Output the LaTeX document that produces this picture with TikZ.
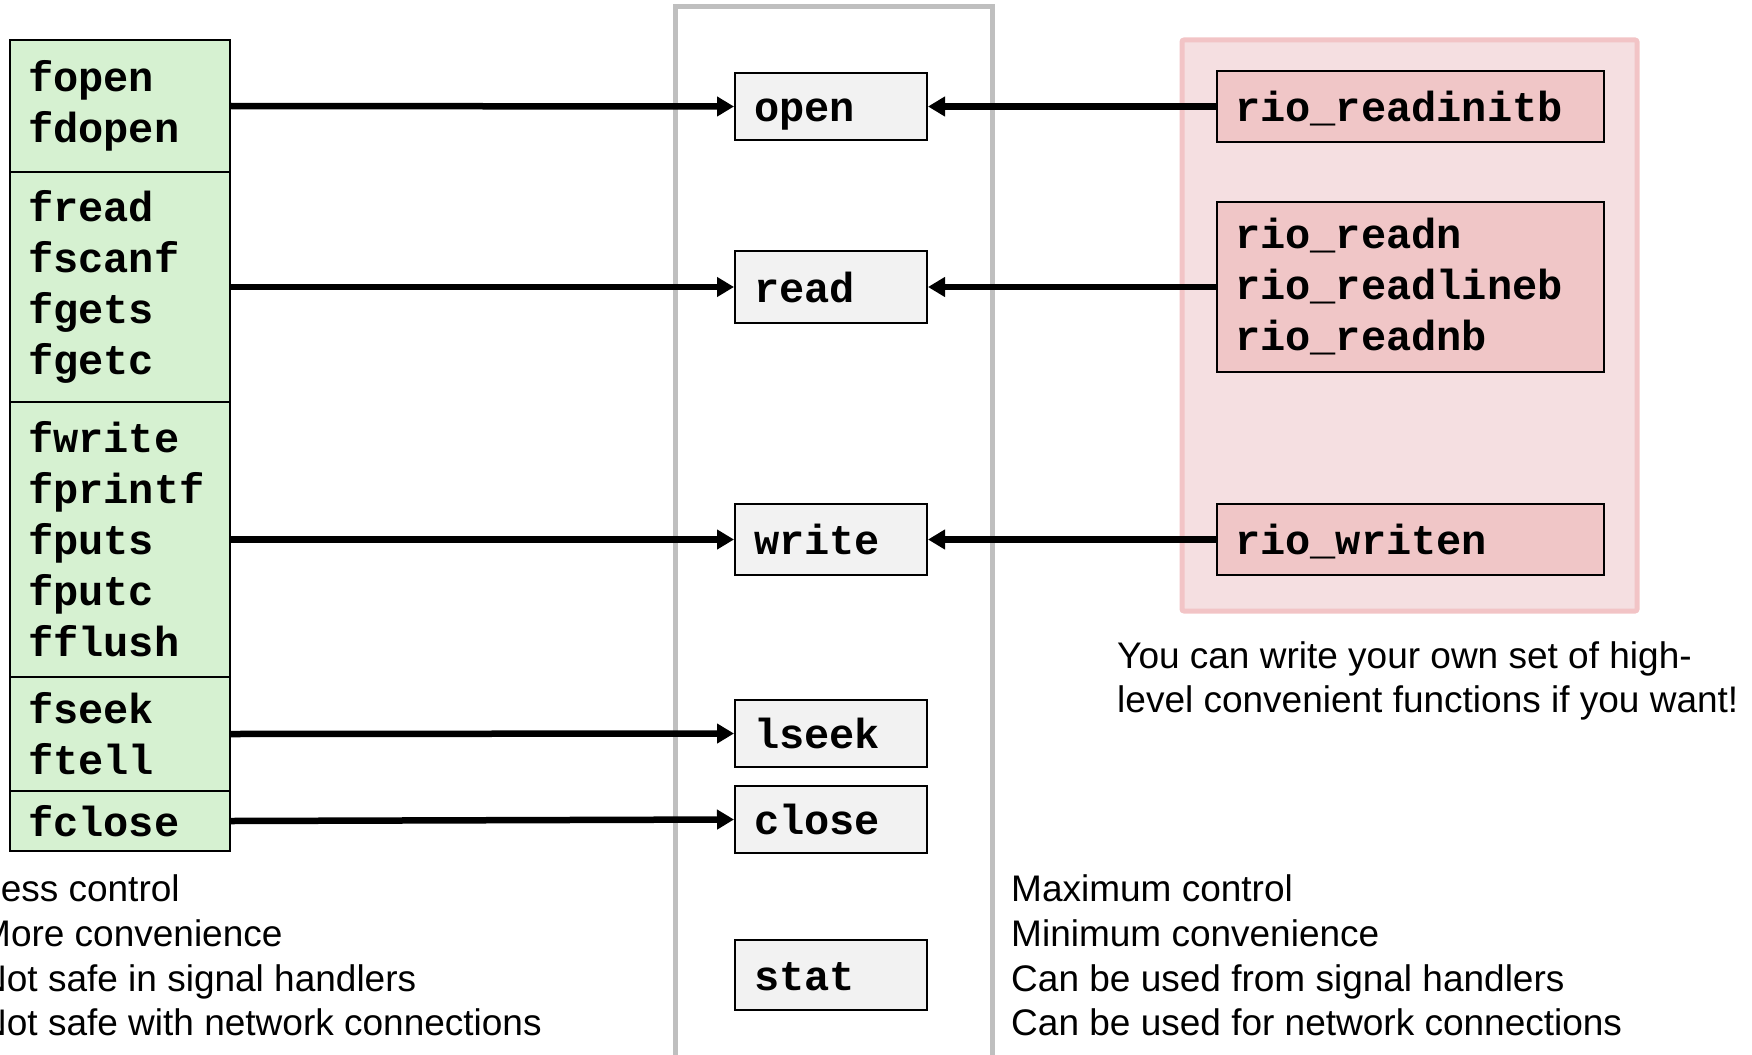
\documentclass[tikz,border=0pt]{standalone}
\usepackage{fontspec}
\setmainfont{Liberation Sans}
\setmonofont{Liberation Mono}
\usetikzlibrary{arrows.meta}
\definecolor{gfill}{RGB}{214,241,209}
\definecolor{cfill}{RGB}{242,242,242}
\definecolor{pouter}{RGB}{245,223,225}
\definecolor{pborder}{RGB}{242,196,198}
\definecolor{pinner}{RGB}{240,198,199}
\definecolor{frame}{RGB}{191,191,191}
\tikzset{
  mono/.style={font=\fontsize{42}{51}\selectfont\ttfamily\bfseries},
  sans/.style={font=\fontsize{37}{44.7}\selectfont, inner sep=0pt, anchor=base west},
  oneline/.style={text height=36pt, text depth=6pt},
  gbox/.style={mono, draw=black, line width=2pt, fill=gfill, anchor=north west,
    minimum width=220pt, text width=184pt, inner xsep=18pt, inner ysep=0pt, align=left},
  cbox/.style={mono, oneline, draw=black, line width=2pt, fill=cfill, anchor=north west,
    minimum width=192pt, text width=154pt, inner xsep=19pt, inner ysep=0pt, align=left},
  pbox/.style={mono, draw=black, line width=2pt, fill=pinner, anchor=north west,
    minimum width=387pt, text width=351pt, inner xsep=18pt, inner ysep=0pt, align=left},
  arr/.style={line width=6.5pt, -{Triangle[length=17pt,width=19pt]}},
}
\begin{document}
\begin{tikzpicture}[x=1pt,y=-1pt]
\useasboundingbox (0,0) rectangle (1752,1054);
% centre frame
\draw[frame, line width=5pt] (675,1070) -- (675,6.5) -- (992,6.5) -- (992,1070);
% pink group
\draw[pborder, fill=pouter, line width=5pt, rounded corners=2pt] (1182,40) rectangle (1637,611);
% left stack
\node[gbox, minimum height=132pt] (g1) at (9,39) {fopen\\fdopen};
\node[gbox, minimum height=230pt] (g2) at (9,171) {fread\\fscanf\\fgets\\fgetc};
\node[gbox, minimum height=275pt] (g3) at (9,401) {fwrite\\fprintf\\fputs\\fputc\\fflush};
\node[gbox, minimum height=114pt] (g4) at (9,676) {fseek\\ftell};
\node[gbox, minimum height=60pt] (g5) at (9,790) {fclose};
% centre boxes
\node[cbox, minimum height=67pt] (open) at (734,72) {open};
\node[cbox, minimum height=72pt] (read) at (734,250) {read};
\node[cbox, minimum height=71pt] (write) at (734,503) {write};
\node[cbox, minimum height=67pt] (lseek) at (734,699) {lseek};
\node[cbox, minimum height=67pt] (close) at (734,785) {close};
\node[cbox, minimum height=70pt] (stat) at (734,939) {stat};
% pink boxes
\node[pbox, oneline, minimum height=71pt] (p1) at (1216,70) {rio\_readinitb};
\node[pbox, minimum height=170pt] (p2) at (1216,201) {rio\_readn\\rio\_readlineb\\rio\_readnb};
\node[pbox, oneline, minimum height=71pt] (p3) at (1216,503) {rio\_writen};
% arrows
\draw[arr] (g1.east) -- (open.west);
\draw[arr] (g2.east) -- (read.west);
\draw[arr] (g3.east) -- (write.west);
\draw[arr] (g4.east) -- (lseek.west);
\draw[arr] (g5.east) -- (close.west);
\draw[arr] (p1.west) -- (open.east);
\draw[arr] (p2.west) -- (read.east);
\draw[arr] (p3.west) -- (write.east);
% captions
\node[sans] (c1) at (1117,668) {You can write your own set of high-};
\node[sans] (c2) at (1117,712) {level convenient functions if you want!};
\node[sans] (l1) at (-20,901) {Less control};
\node[sans] (l2) at (-20,946) {More convenience};
\node[sans] (l3) at (-20,991) {Not safe in signal handlers};
\node[sans] (l4) at (-20,1035) {Not safe with network connections};
\node[sans] (r1) at (1011,901) {Maximum control};
\node[sans] (r2) at (1011,946) {Minimum convenience};
\node[sans] (r3) at (1011,991) {Can be used from signal handlers};
\node[sans] (r4) at (1011,1035) {Can be used for network connections};
\end{tikzpicture}
\end{document}
